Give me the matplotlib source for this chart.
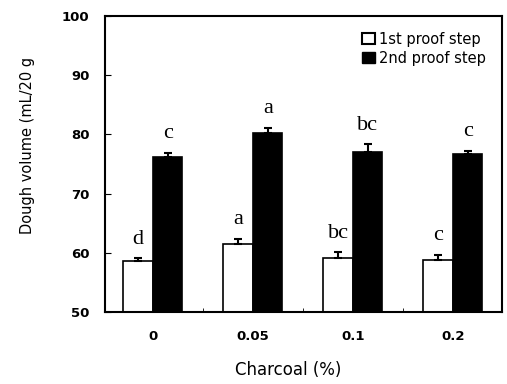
import matplotlib
matplotlib.use('Agg')
import matplotlib.pyplot as plt
from matplotlib.patches import Patch
import numpy as np

# Data
charcoal = ['0', '0.05', '0.1', '0.2']
first_proof = [58.6, 61.5, 59.2, 58.7]
first_err = [0.5, 0.9, 0.9, 1.0]
second_proof = [76.1, 80.3, 77.0, 76.6]
second_err = [0.8, 0.8, 1.3, 0.6]
first_letters = ['d', 'a', 'bc', 'c']
second_letters = ['c', 'a', 'bc', 'c']

fig = plt.figure(figsize=(5.07, 3.84), dpi=100)
ax = fig.add_axes([0.207, 0.1875, 0.783, 0.771])

x = np.arange(len(charcoal))
w = 0.295

ax.bar(x - w / 2, first_proof, w, color='white', edgecolor='black', linewidth=1.2)
ax.bar(x + w / 2, second_proof, w, color='black', edgecolor='black', linewidth=1.2)

# only the upper half of the error bars is drawn
ax.errorbar(x - w / 2, first_proof, yerr=[np.zeros(4), first_err], fmt='none',
            ecolor='black', elinewidth=1.5, capsize=3, capthick=1.5)
ax.errorbar(x + w / 2, second_proof, yerr=[np.zeros(4), second_err], fmt='none',
            ecolor='black', elinewidth=1.5, capsize=3, capthick=1.5)

# significance letters
for i in range(len(charcoal)):
    ax.text(x[i] - w / 2, first_proof[i] + first_err[i] + 1.6, first_letters[i],
            ha='center', va='bottom', family='Liberation Serif', fontsize=16)
    ax.text(x[i] + w / 2, second_proof[i] + second_err[i] + 1.6, second_letters[i],
            ha='center', va='bottom', family='Liberation Serif', fontsize=16)

ax.set_ylim(50, 100)
ax.set_xlim(-0.48, 3.49)
ax.set_yticks([50, 60, 70, 80, 90, 100])
ax.set_xticks(x)
ax.set_xticklabels(charcoal)
ax.set_xticks([0.5, 1.5, 2.5], minor=True)
ax.tick_params(axis='x', which='major', length=0, pad=13, labelsize=9.5)
ax.tick_params(axis='x', which='minor', direction='in', length=3)
ax.tick_params(axis='y', direction='in', length=4, pad=11, labelsize=9.5)
for lab in ax.get_xticklabels() + ax.get_yticklabels():
    lab.set_fontweight('bold')
    lab.set_family('DejaVu Sans')

for s in ax.spines.values():
    s.set_linewidth(1.5)

ax.set_xlabel('Charcoal (%)', family='DejaVu Sans', fontsize=12)
ax.xaxis.set_label_coords(0.461, -0.166)
ax.set_ylabel('Dough volume (mL/20 g', family='DejaVu Sans', fontsize=10.5)
ax.yaxis.set_label_coords(-0.176, 0.564)

handles = [Patch(facecolor='white', edgecolor='black', linewidth=1.5, label='1st proof step'),
           Patch(facecolor='black', edgecolor='black', label='2nd proof step')]
ax.legend(handles=handles, loc='upper right', frameon=False,
          prop={'family': 'DejaVu Sans', 'size': 10.5},
          handlelength=0.9, handleheight=0.8, handletextpad=0.3,
          labelspacing=0.25, borderaxespad=0.7)

plt.savefig('out.png', dpi=100)
